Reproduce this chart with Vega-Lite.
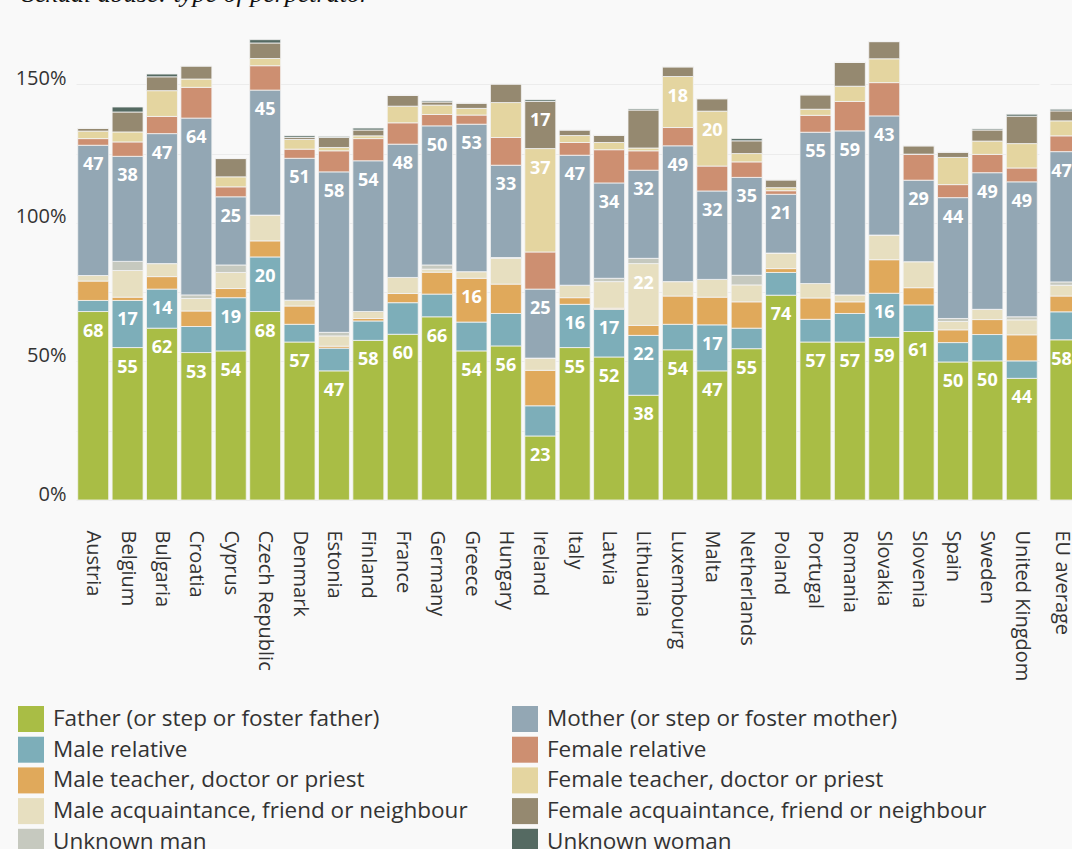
{
  "$schema": "https://vega.github.io/schema/vega-lite/v6.json",
  "background": "#f9f9f9",
  "padding": {"left": 12, "top": -19, "right": 0, "bottom": 0},
  "title": {"text": "Sexual abuse: type of perpetrator", "font": "Liberation Serif", "fontStyle": "italic", "fontSize": 26, "fontWeight": "normal", "anchor": "start", "frame": "bounds", "offset": -13, "baseline": "alphabetic", "color": "#111111", "dx": 10},
  "config": {
    "font": "Open Sans",
    "view": {"stroke": null},
    "axis": {"labelColor": "#333333", "labelFont": "Open Sans", "labelFontSize": 20, "title": null, "ticks": false, "domain": false},
    "legend": {"labelFont": "Open Sans"}
  },
  "data": {"values": [
    {"country": "Austria", "Father (or step or foster father)": 68, "Male relative": 4, "Male teacher, doctor or priest": 7, "Male acquaintance, friend or neighbour": 2, "Unknown man": 0, "Mother (or step or foster mother)": 47, "Female relative": 2.4, "Female teacher, doctor or priest": 2.7, "Female acquaintance, friend or neighbour": 1, "Unknown woman": 0},
    {"country": "Belgium", "Father (or step or foster father)": 55, "Male relative": 17, "Male teacher, doctor or priest": 1.2, "Male acquaintance, friend or neighbour": 9.6, "Unknown man": 3.3, "Mother (or step or foster mother)": 37.9, "Female relative": 5.2, "Female teacher, doctor or priest": 3.6, "Female acquaintance, friend or neighbour": 7.2, "Unknown woman": 1.8},
    {"country": "Bulgaria", "Father (or step or foster father)": 62, "Male relative": 14.1, "Male teacher, doctor or priest": 4.5, "Male acquaintance, friend or neighbour": 4.7, "Unknown man": 0, "Mother (or step or foster mother)": 46.9, "Female relative": 6.2, "Female teacher, doctor or priest": 9.3, "Female acquaintance, friend or neighbour": 5, "Unknown woman": 1},
    {"country": "Croatia", "Father (or step or foster father)": 53.2, "Male relative": 9.4, "Male teacher, doctor or priest": 5.6, "Male acquaintance, friend or neighbour": 4.5, "Unknown man": 1.3, "Mother (or step or foster mother)": 63.8, "Female relative": 11.1, "Female teacher, doctor or priest": 3, "Female acquaintance, friend or neighbour": 4.7, "Unknown woman": 0},
    {"country": "Cyprus", "Father (or step or foster father)": 53.8, "Male relative": 19.2, "Male teacher, doctor or priest": 3.3, "Male acquaintance, friend or neighbour": 5.8, "Unknown man": 2.7, "Mother (or step or foster mother)": 24.6, "Female relative": 3.6, "Female teacher, doctor or priest": 3.6, "Female acquaintance, friend or neighbour": 6.6, "Unknown woman": 0},
    {"country": "Czech Republic", "Father (or step or foster father)": 68, "Male relative": 19.7, "Male teacher, doctor or priest": 5.8, "Male acquaintance, friend or neighbour": 9.3, "Unknown man": 0, "Mother (or step or foster mother)": 45.1, "Female relative": 8.8, "Female teacher, doctor or priest": 2.6, "Female acquaintance, friend or neighbour": 5.6, "Unknown woman": 1.2},
    {"country": "Denmark", "Father (or step or foster father)": 57, "Male relative": 6.4, "Male teacher, doctor or priest": 6.6, "Male acquaintance, friend or neighbour": 2.1, "Unknown man": 0, "Mother (or step or foster mother)": 51.2, "Female relative": 3.3, "Female teacher, doctor or priest": 3.5, "Female acquaintance, friend or neighbour": 0.7, "Unknown woman": 0.6},
    {"country": "Estonia", "Father (or step or foster father)": 46.6, "Male relative": 8.2, "Male teacher, doctor or priest": 0.7, "Male acquaintance, friend or neighbour": 3.7, "Unknown man": 1.3, "Mother (or step or foster mother)": 57.9, "Female relative": 7.6, "Female teacher, doctor or priest": 1.2, "Female acquaintance, friend or neighbour": 3.6, "Unknown woman": 0.4},
    {"country": "Finland", "Father (or step or foster father)": 57.6, "Male relative": 7, "Male teacher, doctor or priest": 0.9, "Male acquaintance, friend or neighbour": 2.5, "Unknown man": 0, "Mother (or step or foster mother)": 54.4, "Female relative": 8, "Female teacher, doctor or priest": 1, "Female acquaintance, friend or neighbour": 2.1, "Unknown woman": 0.7},
    {"country": "France", "Father (or step or foster father)": 59.8, "Male relative": 11.4, "Male teacher, doctor or priest": 3.3, "Male acquaintance, friend or neighbour": 5.8, "Unknown man": 0, "Mother (or step or foster mother)": 48.1, "Female relative": 7.7, "Female teacher, doctor or priest": 6, "Female acquaintance, friend or neighbour": 3.9, "Unknown woman": 0},
    {"country": "Germany", "Father (or step or foster father)": 66.1, "Male relative": 8.2, "Male teacher, doctor or priest": 7.9, "Male acquaintance, friend or neighbour": 1.1, "Unknown man": 1.5, "Mother (or step or foster mother)": 50.2, "Female relative": 4.1, "Female teacher, doctor or priest": 3.4, "Female acquaintance, friend or neighbour": 1.1, "Unknown woman": 0.4},
    {"country": "Greece", "Father (or step or foster father)": 53.8, "Male relative": 10.4, "Male teacher, doctor or priest": 15.8, "Male acquaintance, friend or neighbour": 2.4, "Unknown man": 0, "Mother (or step or foster mother)": 53.2, "Female relative": 3.3, "Female teacher, doctor or priest": 2.4, "Female acquaintance, friend or neighbour": 1.9, "Unknown woman": 0},
    {"country": "Hungary", "Father (or step or foster father)": 55.6, "Male relative": 11.7, "Male teacher, doctor or priest": 10.6, "Male acquaintance, friend or neighbour": 9.3, "Unknown man": 0.3, "Mother (or step or foster mother)": 33.3, "Female relative": 10, "Female teacher, doctor or priest": 12.6, "Female acquaintance, friend or neighbour": 6.7, "Unknown woman": 0},
    {"country": "Ireland", "Father (or step or foster father)": 23.1, "Male relative": 10.9, "Male teacher, doctor or priest": 12.8, "Male acquaintance, friend or neighbour": 4.4, "Unknown man": 0, "Mother (or step or foster mother)": 24.9, "Female relative": 13.4, "Female teacher, doctor or priest": 37.3, "Female acquaintance, friend or neighbour": 17, "Unknown woman": 0.6},
    {"country": "Italy", "Father (or step or foster father)": 55, "Male relative": 15.6, "Male teacher, doctor or priest": 2.4, "Male acquaintance, friend or neighbour": 4.5, "Unknown man": 0, "Mother (or step or foster mother)": 46.9, "Female relative": 4.6, "Female teacher, doctor or priest": 2.5, "Female acquaintance, friend or neighbour": 2, "Unknown woman": 0},
    {"country": "Latvia", "Father (or step or foster father)": 51.6, "Male relative": 17.2, "Male teacher, doctor or priest": 0.4, "Male acquaintance, friend or neighbour": 9.6, "Unknown man": 1.2, "Mother (or step or foster mother)": 34.4, "Female relative": 12, "Female teacher, doctor or priest": 2.6, "Female acquaintance, friend or neighbour": 2.6, "Unknown woman": 0},
    {"country": "Lithuania", "Father (or step or foster father)": 37.8, "Male relative": 21.6, "Male teacher, doctor or priest": 3.6, "Male acquaintance, friend or neighbour": 22.3, "Unknown man": 1.9, "Mother (or step or foster mother)": 31.8, "Female relative": 7, "Female teacher, doctor or priest": 1, "Female acquaintance, friend or neighbour": 13.7, "Unknown woman": 0.4},
    {"country": "Luxembourg", "Father (or step or foster father)": 54.2, "Male relative": 9.2, "Male teacher, doctor or priest": 10.2, "Male acquaintance, friend or neighbour": 5.2, "Unknown man": 0, "Mother (or step or foster mother)": 49, "Female relative": 6.6, "Female teacher, doctor or priest": 18.4, "Female acquaintance, friend or neighbour": 3.5, "Unknown woman": 0},
    {"country": "Malta", "Father (or step or foster father)": 46.6, "Male relative": 16.6, "Male teacher, doctor or priest": 10, "Male acquaintance, friend or neighbour": 6.4, "Unknown man": 0, "Mother (or step or foster mother)": 31.9, "Female relative": 9, "Female teacher, doctor or priest": 19.8, "Female acquaintance, friend or neighbour": 4.5, "Unknown woman": 0},
    {"country": "Netherlands", "Father (or step or foster father)": 54.6, "Male relative": 7.4, "Male teacher, doctor or priest": 9.5, "Male acquaintance, friend or neighbour": 6.1, "Unknown man": 3.5, "Mother (or step or foster mother)": 35.3, "Female relative": 5.6, "Female teacher, doctor or priest": 3, "Female acquaintance, friend or neighbour": 4.6, "Unknown woman": 0.8},
    {"country": "Poland", "Father (or step or foster father)": 73.9, "Male relative": 8.2, "Male teacher, doctor or priest": 1.4, "Male acquaintance, friend or neighbour": 5.6, "Unknown man": 0, "Mother (or step or foster mother)": 21.2, "Female relative": 1.3, "Female teacher, doctor or priest": 1.1, "Female acquaintance, friend or neighbour": 2.8, "Unknown woman": 0},
    {"country": "Portugal", "Father (or step or foster father)": 57, "Male relative": 8.2, "Male teacher, doctor or priest": 7.7, "Male acquaintance, friend or neighbour": 5.2, "Unknown man": 0, "Mother (or step or foster mother)": 54.6, "Female relative": 6.1, "Female teacher, doctor or priest": 2.2, "Female acquaintance, friend or neighbour": 5.2, "Unknown woman": 0},
    {"country": "Romania", "Father (or step or foster father)": 57, "Male relative": 10.3, "Male teacher, doctor or priest": 4.2, "Male acquaintance, friend or neighbour": 2.5, "Unknown man": 0, "Mother (or step or foster mother)": 59.2, "Female relative": 10.6, "Female teacher, doctor or priest": 5.5, "Female acquaintance, friend or neighbour": 8.6, "Unknown woman": 0},
    {"country": "Slovakia", "Father (or step or foster father)": 58.7, "Male relative": 15.9, "Male teacher, doctor or priest": 12.1, "Male acquaintance, friend or neighbour": 8.9, "Unknown man": 0, "Mother (or step or foster mother)": 43, "Female relative": 12, "Female teacher, doctor or priest": 8.6, "Female acquaintance, friend or neighbour": 6.2, "Unknown woman": 0},
    {"country": "Slovenia", "Father (or step or foster father)": 60.8, "Male relative": 9.6, "Male teacher, doctor or priest": 6.2, "Male acquaintance, friend or neighbour": 9.4, "Unknown man": 0, "Mother (or step or foster mother)": 29.4, "Female relative": 9.4, "Female teacher, doctor or priest": 0, "Female acquaintance, friend or neighbour": 3, "Unknown woman": 0},
    {"country": "Spain", "Father (or step or foster father)": 49.8, "Male relative": 7, "Male teacher, doctor or priest": 4.6, "Male acquaintance, friend or neighbour": 3, "Unknown man": 1.1, "Mother (or step or foster mother)": 43.6, "Female relative": 4.7, "Female teacher, doctor or priest": 9.8, "Female acquaintance, friend or neighbour": 1.9, "Unknown woman": 0},
    {"country": "Sweden", "Father (or step or foster father)": 50.2, "Male relative": 9.5, "Male teacher, doctor or priest": 5.4, "Male acquaintance, friend or neighbour": 3.7, "Unknown man": 0, "Mother (or step or foster mother)": 49.3, "Female relative": 6.6, "Female teacher, doctor or priest": 4.8, "Female acquaintance, friend or neighbour": 4, "Unknown woman": 0.4},
    {"country": "United Kingdom", "Father (or step or foster father)": 43.9, "Male relative": 6.3, "Male teacher, doctor or priest": 9.4, "Male acquaintance, friend or neighbour": 5.4, "Unknown man": 1.1, "Mother (or step or foster mother)": 48.7, "Female relative": 5, "Female teacher, doctor or priest": 8.8, "Female acquaintance, friend or neighbour": 9.9, "Unknown woman": 0.7},
    {"country": "EU average", "Father (or step or foster father)": 57.8, "Male relative": 10.1, "Male teacher, doctor or priest": 5.7, "Male acquaintance, friend or neighbour": 3.9, "Unknown man": 1.2, "Mother (or step or foster mother)": 47, "Female relative": 5.7, "Female teacher, doctor or priest": 5.4, "Female acquaintance, friend or neighbour": 3.6, "Unknown woman": 0.6}
  ]},
  "transform": [
    {"fold": ["Father (or step or foster father)", "Male relative", "Male teacher, doctor or priest", "Male acquaintance, friend or neighbour", "Unknown man", "Mother (or step or foster mother)", "Female relative", "Female teacher, doctor or priest", "Female acquaintance, friend or neighbour", "Unknown woman"], "as": ["type", "value"]},
    {"calculate": "indexof(['Father (or step or foster father)', 'Male relative', 'Male teacher, doctor or priest', 'Male acquaintance, friend or neighbour', 'Unknown man', 'Mother (or step or foster mother)', 'Female relative', 'Female teacher, doctor or priest', 'Female acquaintance, friend or neighbour', 'Unknown woman'], datum.type)", "as": "idx"}
  ],
  "resolve": {"scale": {"y": "shared"}},
  "spacing": 10,
  "hconcat": [
    {
      "width": 963,
      "height": 485,
      "transform": [{"filter": "datum.country !== 'EU average'"}],
      "encoding": {
        "x": {"field": "country", "type": "nominal", "sort": null, "scale": {"paddingInner": 0.1, "paddingOuter": 0.05},
              "axis": {"labelAngle": 90, "labelAlign": "left", "labelBaseline": "middle", "labelPadding": 30, "labelLimit": 300}},
        "y": {"field": "value", "type": "quantitative", "stack": "zero", "scale": {"domain": [0, 175], "nice": false},
              "axis": {"values": [0, 25, 50, 75, 100, 125, 150], "labelExpr": "datum.value % 50 === 0 ? datum.value + '%' : ''", "grid": true, "gridColor": "#ececec", "labelPadding": 10, "labelBaseline": "alphabetic", "minExtent": 60, "maxExtent": 60}},
        "order": {"field": "idx", "type": "quantitative"}
      },
      "layer": [
        {"mark": {"type": "bar", "stroke": "#f4f4f4", "strokeWidth": 0.8},
         "encoding": {"color": {"field": "type", "type": "nominal",
           "scale": {"domain": ["Father (or step or foster father)", "Male relative", "Male teacher, doctor or priest", "Male acquaintance, friend or neighbour", "Unknown man", "Mother (or step or foster mother)", "Female relative", "Female teacher, doctor or priest", "Female acquaintance, friend or neighbour", "Unknown woman"],
                     "range": ["#a9bd45", "#7daeb9", "#e0a95b", "#e7dfc0", "#c6c9bf", "#93a7b4", "#cd8f71", "#e4d5a0", "#958970", "#556a62"]},
           "legend": {"orient": "none", "legendX": -64, "legendY": 685, "title": null, "columns": 2, "columnPadding": 44, "rowPadding": 4.7, "symbolType": "square", "symbolSize": 676, "symbolStrokeWidth": 0, "labelFontSize": 22.5, "labelColor": "#333333", "labelLimit": 600, "labelOffset": 9, "padding": 6, "fillColor": "#f9f9f9"}}}},
        {"mark": {"type": "text", "color": "white", "fontWeight": "bold", "fontSize": 18, "baseline": "middle", "dy": 20},
         "encoding": {"detail": {"field": "type"},
           "text": {"condition": {"test": "datum.value >= 14", "field": "value", "type": "quantitative", "format": ".0f"}, "value": ""}}}
      ]
    },
    {
      "width": 23,
      "height": 485,
      "transform": [{"filter": "datum.country === 'EU average'"}],
      "encoding": {
        "x": {"field": "country", "type": "nominal", "sort": null, "scale": {"paddingInner": 0, "paddingOuter": 0},
              "axis": {"labelAngle": 90, "labelAlign": "left", "labelBaseline": "middle", "labelPadding": 30, "labelLimit": 300}},
        "y": {"field": "value", "type": "quantitative", "stack": "zero", "scale": {"domain": [0, 175], "nice": false},
              "axis": {"values": [0, 25, 50, 75, 100, 125, 150], "labels": false, "grid": true, "gridColor": "#ececec", "minExtent": 0, "maxExtent": 0}},
        "order": {"field": "idx", "type": "quantitative"}
      },
      "layer": [
        {"mark": {"type": "bar", "stroke": "#f4f4f4", "strokeWidth": 0.8},
         "encoding": {"color": {"field": "type", "type": "nominal"}}},
        {"mark": {"type": "text", "color": "white", "fontWeight": "bold", "fontSize": 18, "baseline": "middle", "dy": 20},
         "encoding": {"detail": {"field": "type"},
           "text": {"condition": {"test": "datum.value >= 14", "field": "value", "type": "quantitative", "format": ".0f"}, "value": ""}}}
      ]
    }
  ]
}
